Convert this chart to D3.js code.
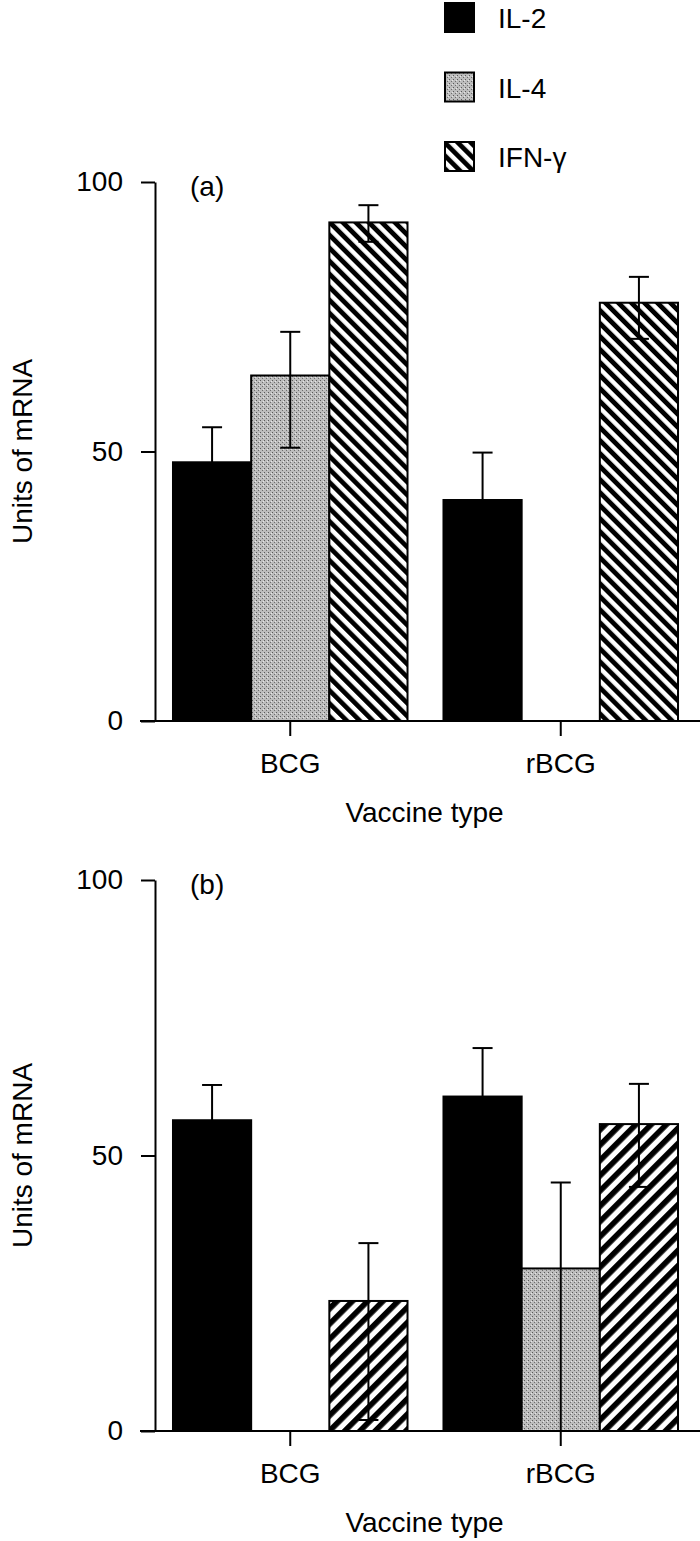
<!DOCTYPE html>
<html>
<head>
<meta charset="utf-8">
<script src="https://cdn.jsdelivr.net/npm/d3@7"></script>
<style>
  body { margin: 0; background: #fff; }
  svg { display: block; }
  text { font-family: "Liberation Sans", Arial, Helvetica, sans-serif; fill: #000; }
</style>
</head>
<body>
<script>
const vaccines = ['BCG', 'rBCG'];
const cytokines = ['IL-2', 'IL-4', 'IFN-γ'];
const yTicks = [0, 50, 100];

// panel (a), indexed [vaccine][cytokine]; 0 = no bar, null = no whisker
const meanA  = [[48.0, 64.1, 92.5], [41.0, 0, 77.6]];
const upperA = [[54.5, 72.2, 95.7], [49.8, null, 82.4]];
const lowerA = [[null, 50.7, 88.9], [null, null, 70.9]];

// panel (b)
const meanB  = [[56.4, 0, 23.6], [60.7, 29.5, 55.7]];
const upperB = [[62.8, null, 34.1], [69.5, 45.1, 63.0]];
const lowerB = [[null, null, 2.0], [null, 0, 44.3]];

const width = 700, height = 1541;
const font = 28;

const panels = [
  { label: '(a)', top: 182, bottom: 721, hatch: 'hatchA', mean: meanA, upper: upperA, lower: lowerA },
  { label: '(b)', top: 880, bottom: 1431, hatch: 'hatchB', mean: meanB, upper: upperB, lower: lowerB }
];

let svg;

function makePatterns() {
  const defs = svg.append('defs');

  // stippled grey for IL-4
  const st = defs.append('pattern')
      .attr('id', 'stipple')
      .attr('patternUnits', 'userSpaceOnUse')
      .attr('width', 4).attr('height', 4);
  st.append('rect').attr('width', 4).attr('height', 4).attr('fill', '#bdbdbd');
  st.append('rect').attr('x', 0).attr('y', 0).attr('width', 1).attr('height', 1).attr('fill', '#5a5a5a');
  st.append('rect').attr('x', 2).attr('y', 2).attr('width', 1).attr('height', 1).attr('fill', '#6e6e6e');
  st.append('rect').attr('x', 3).attr('y', 1).attr('width', 1).attr('height', 1).attr('fill', '#e6e6e6');

  // diagonal stripes: (a) runs "\", (b) runs "/"
  [['hatchA', -45, 9.2], ['hatchB', 45, 10.8]].forEach(([id, angle, step]) => {
    const p = defs.append('pattern')
        .attr('id', id)
        .attr('patternUnits', 'userSpaceOnUse')
        .attr('width', step).attr('height', step)
        .attr('patternTransform', `rotate(${angle})`);
    p.append('rect').attr('width', step).attr('height', step).attr('fill', '#fff');
    p.append('rect').attr('width', step * 0.52).attr('height', step).attr('fill', '#000');
  });
}

function fillFor(j, p) {
  if (j === 0) return '#000';
  if (j === 1) return 'url(#stipple)';
  return `url(#${p.hatch})`;
}

function drawPanel(p) {
  const x = d3.scaleBand()
      .domain(vaccines)
      .range([155, 696])
      .paddingInner(0.133)
      .paddingOuter(0.0665);
  const xs = d3.scaleBand()
      .domain(cytokines)
      .range([0, x.bandwidth()]);
  const y = d3.scaleLinear()
      .domain([0, 100])
      .range([p.bottom, p.top]);

  const g = svg.append('g');

  const cells = [];
  vaccines.forEach((v, i) => {
    cytokines.forEach((c, j) => {
      cells.push({ v, c, j, mean: p.mean[i][j], hi: p.upper[i][j], lo: p.lower[i][j] });
    });
  });

  // bars
  g.selectAll('rect.bar').data(cells.filter(d => d.mean > 0)).enter()
    .append('rect')
      .attr('class', 'bar')
      .attr('x', d => x(d.v) + xs(d.c))
      .attr('y', d => y(d.mean))
      .attr('width', xs.bandwidth())
      .attr('height', d => y(0) - y(d.mean))
      .attr('fill', d => fillFor(d.j, p))
      .attr('stroke', '#000')
      .attr('stroke-width', 2);

  // whiskers (upper above the bar, lower drawn inside it)
  const cap = 10;
  cells.forEach(d => {
    const cx = x(d.v) + xs(d.c) + xs.bandwidth() / 2;
    [d.hi, d.lo].forEach(end => {
      if (end === null) return;
      g.append('line')
        .attr('x1', cx).attr('x2', cx)
        .attr('y1', y(d.mean)).attr('y2', y(end))
        .attr('stroke', '#000').attr('stroke-width', 2);
      g.append('line')
        .attr('x1', cx - cap).attr('x2', cx + cap)
        .attr('y1', y(end)).attr('y2', y(end))
        .attr('stroke', '#000').attr('stroke-width', 2);
    });
  });

  // y axis
  const yAxis = g.append('g')
      .attr('transform', 'translate(155,0)')
      .call(d3.axisLeft(y).tickValues(yTicks).tickSize(14).tickSizeOuter(0).tickPadding(18));
  yAxis.selectAll('path, line').attr('stroke', '#000').attr('stroke-width', 2);
  yAxis.selectAll('text').style('font-size', font + 'px').style('font-family', null).attr('fill', '#000');

  // x axis
  const xAxis = g.append('g')
      .attr('transform', `translate(0,${y(0)})`)
      .call(d3.axisBottom(x).tickSize(15).tickSizeOuter(0).tickPadding(17));
  xAxis.select('.domain').remove();
  xAxis.selectAll('line').attr('stroke', '#000').attr('stroke-width', 2);
  xAxis.selectAll('text').style('font-size', font + 'px').style('font-family', null).attr('fill', '#000');
  g.append('line')
    .attr('x1', 140).attr('x2', width)
    .attr('y1', y(0)).attr('y2', y(0))
    .attr('stroke', '#000').attr('stroke-width', 2);

  // titles
  g.append('text')
    .attr('x', 190).attr('y', p.top + 14)
    .style('font-size', font + 'px')
    .text(p.label);
  g.append('text')
    .attr('x', x.range()[0] + (x.range()[1] - x.range()[0]) / 2 - 1)
    .attr('y', y(0) + 101)
    .attr('text-anchor', 'middle')
    .style('font-size', font + 'px')
    .text('Vaccine type');
  g.append('text')
    .attr('transform', `translate(32,${(y(0) + y(100)) / 2}) rotate(-90)`)
    .attr('text-anchor', 'middle')
    .style('font-size', font + 'px')
    .text('Units of mRNA');
}

function drawLegend(p) {
  const lg = svg.append('g').attr('transform', 'translate(445,3)');
  const row = d3.scalePoint().domain(cytokines).range([0, 139]);
  cytokines.forEach((c, j) => {
    lg.append('rect')
      .attr('x', 0).attr('y', row(c))
      .attr('width', 29).attr('height', 29)
      .attr('fill', fillFor(j, p))
      .attr('stroke', '#000').attr('stroke-width', 2);
    lg.append('text')
      .attr('x', 53).attr('y', row(c) + 25)
      .style('font-size', font + 'px')
      .text(c);
  });
}

function init() {
  svg = d3.select('body')
    .append('svg')
      .attr('width', width)
      .attr('height', height);
  makePatterns();
  panels.forEach(drawPanel);
  drawLegend(panels[0]);
}

init();
</script>
</body>
</html>
